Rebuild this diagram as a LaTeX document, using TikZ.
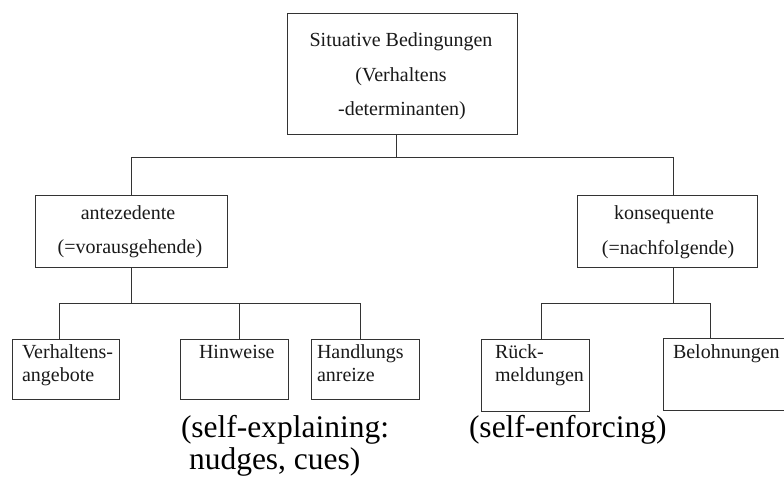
\documentclass[tikz,border=0pt]{standalone}
\usepackage{fontspec}
\setmainfont{Liberation Serif}
\begin{document}
\begin{tikzpicture}[x=1bp,y=-1bp,
  box/.style={draw=black!80,line width=0.9bp,rectangle,inner sep=0pt,outer sep=0pt},
  conn/.style={draw=black!80,line width=0.9bp},
  txt/.style={inner sep=0pt,outer sep=0pt,font=\fontsize{20bp}{24bp}\selectfont,text=black!90},
  big/.style={inner sep=0pt,outer sep=0pt,font=\fontsize{31.5bp}{36bp}\selectfont,text=black}]
\useasboundingbox (0,0) rectangle (784,484);
\clip (0,0) rectangle (784,484);
% boxes
\node[box,minimum width=230bp,minimum height=121bp] (top) at (402,73.5) {};
\node[box,minimum width=192bp,minimum height=72bp] (ante) at (131,231) {};
\node[box,minimum width=180bp,minimum height=72bp] (kons) at (667,231) {};
\node[box,minimum width=107bp,minimum height=60bp] (verh) at (65.5,369) {};
\node[box,minimum width=108bp,minimum height=60bp] (hinw) at (234,369) {};
\node[box,minimum width=108bp,minimum height=60bp] (hand) at (365,369) {};
\node[box,minimum width=108bp,minimum height=72bp] (rueck) at (535,375) {};
\node[box,minimum width=137bp,minimum height=72bp] (belo) at (731.5,374) {};
% box texts
\node[txt,anchor=base] (t1) at (401,47) {Situative Bedingungen};
\node[txt,anchor=base] (t2) at (401,82) {(Verhaltens};
\node[txt,anchor=base] (t3) at (402,116) {-determinanten)};
\node[txt,anchor=base] (a1t) at (128,220) {antezedente};
\node[txt,anchor=base] (a2t) at (130,254) {(=vorausgehende)};
\node[txt,anchor=base] (k1t) at (664,220) {konsequente};
\node[txt,anchor=base] (k2t) at (668,255) {(=nachfolgende)};
\node[txt,anchor=base west] (v1t) at (22,358) {Verhaltens-};
\node[txt,anchor=base west] (v2t) at (22,381) {angebote};
\node[txt,anchor=base west] (h1t) at (199,358) {Hinweise};
\node[txt,anchor=base west] (n1t) at (317,358) {Handlungs};
\node[txt,anchor=base west] (n2t) at (317,381) {anreize};
\node[txt,anchor=base west] (r1t) at (495,358) {Rück-};
\node[txt,anchor=base west] (r2t) at (495,381) {meldungen};
\node[txt,anchor=base west] (b1t) at (673,358) {Belohnungen};
% bottom notes
\node[big,anchor=base west] (se1) at (181,437) {(self-explaining:};
\node[big,anchor=base west] (se2) at (189,469) {nudges, cues)};
\node[big,anchor=base west] (sf) at (469,437) {(self-enforcing)};
% junctions
\coordinate (j0) at (396,157);
\coordinate (kn) at (673,157);
\coordinate (a1) at (59,303);
\coordinate (a2) at (239,303);
\coordinate (a3) at (360,303);
\coordinate (k1) at (541,303);
\coordinate (k2) at (710,303);
% connectors
\draw[conn] (top.south -| j0) -- (j0);
\draw[conn] (ante.north) |- (kn) -- (kons.north -| kn);
\draw[conn] (ante.south) -- (ante.south |- a1);
\draw[conn] (verh.north -| a1) |- (a3) -- (hand.north -| a3);
\draw[conn] (a2) -- (hinw.north -| a2);
\draw[conn] (kons.south -| kn) -- (kn |- k1);
\draw[conn] (rueck.north -| k1) |- (k2) -- (belo.north -| k2);
\end{tikzpicture}
\end{document}
